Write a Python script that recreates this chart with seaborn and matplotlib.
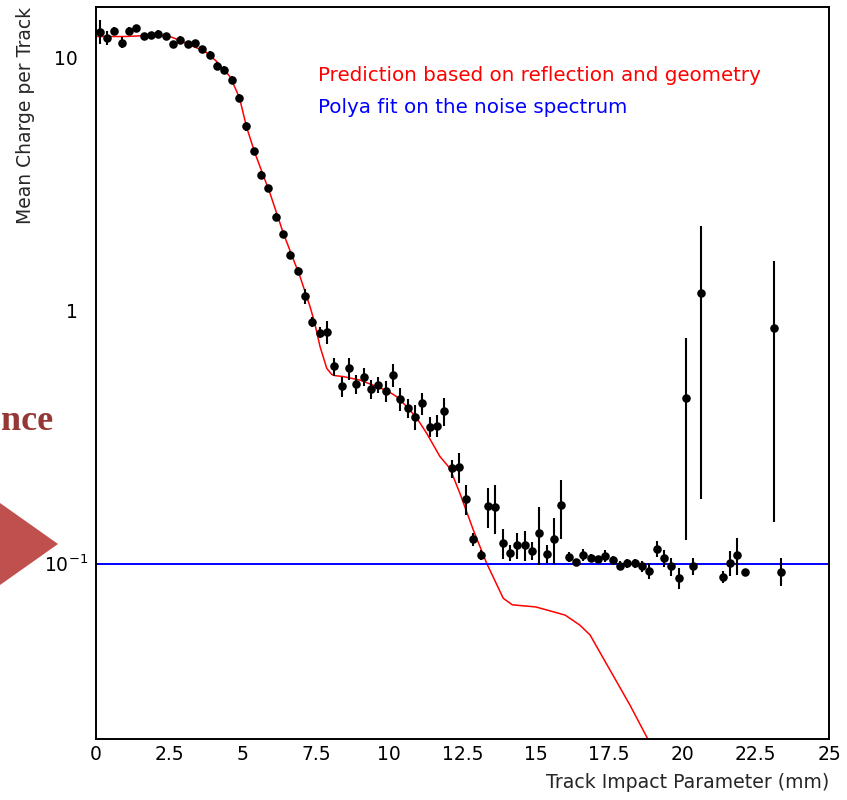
import matplotlib
matplotlib.use("Agg")
import matplotlib.pyplot as plt
import seaborn as sns
from matplotlib.ticker import FixedLocator, FixedFormatter, MultipleLocator, LogLocator, NullFormatter
from matplotlib.patches import Polygon
from matplotlib.transforms import ScaledTranslation

# Measured mean charge per track vs. track impact parameter (bin centres, mm)
impact_mm = [
    0.125, 0.375, 0.625, 0.875, 1.125, 1.375, 1.625, 1.875, 2.125, 2.375,
    2.625, 2.875, 3.125, 3.375, 3.625, 3.875, 4.125, 4.375, 4.625, 4.875,
    5.125, 5.375, 5.625, 5.875, 6.125, 6.375, 6.625, 6.875, 7.125, 7.375,
    7.625, 7.875, 8.125, 8.375, 8.625, 8.875, 9.125, 9.375, 9.625, 9.875,
    10.125, 10.375, 10.625, 10.875, 11.125, 11.375, 11.625, 11.875, 12.125, 12.375,
    12.625, 12.875, 13.125, 13.375, 13.625, 13.875, 14.125, 14.375, 14.625, 14.875,
    15.125, 15.375, 15.625, 15.875, 16.125, 16.375, 16.625, 16.875, 17.125, 17.375,
    17.625, 17.875, 18.125, 18.375, 18.625, 18.875, 19.125, 19.375, 19.625, 19.875,
    20.125, 20.375, 20.625, 21.375, 21.625, 21.875, 22.125, 23.125, 23.375,
]
mean_charge = [
    12.7, 12.0, 12.8, 11.5, 12.8, 13.1, 12.2, 12.3, 12.45, 12.2,
    11.3, 11.8, 11.3, 11.4, 10.8, 10.3, 9.3, 8.96, 8.18, 6.96,
    5.35, 4.26, 3.43, 3.05, 2.34, 2.0, 1.66, 1.43, 1.14, 0.90,
    0.817, 0.82, 0.60, 0.50, 0.59, 0.51, 0.547, 0.49, 0.507, 0.48,
    0.556, 0.447, 0.41, 0.38, 0.43, 0.347, 0.35, 0.40, 0.237, 0.24,
    0.179, 0.124, 0.108, 0.168, 0.167, 0.120, 0.110, 0.118, 0.118, 0.112,
    0.132, 0.109, 0.125, 0.169, 0.106, 0.101, 0.108, 0.1045, 0.1035, 0.1066,
    0.1027, 0.0976, 0.0997, 0.0997, 0.0969, 0.093, 0.114, 0.1045, 0.097, 0.0875,
    0.449, 0.097, 1.17, 0.088, 0.100, 0.108, 0.092, 0.855, 0.0925,
]
charge_err = [
    1.4, 0.8, 0.45, 0.6, 0.45, 0.45, 0.4, 0.4, 0.4, 0.4,
    0.4, 0.4, 0.35, 0.35, 0.35, 0.3, 0.3, 0.3, 0.3, 0.25,
    0.2, 0.15, 0.12, 0.1, 0.08, 0.07, 0.06, 0.05, 0.075, 0.042,
    0.04, 0.086, 0.05, 0.047, 0.059, 0.044, 0.047, 0.042, 0.038, 0.045,
    0.058, 0.047, 0.035, 0.044, 0.043, 0.033, 0.035, 0.05, 0.019, 0.033,
    0.024, 0.007, 0.005, 0.03, 0.037, 0.016, 0.008, 0.014, 0.016, 0.009,
    0.034, 0.009, 0.026, 0.045, 0.005, 0.003, 0.006, 0.004, 0.003, 0.006,
    0.004, 0.004, 0.004, 0.004, 0.005, 0.0066, 0.0087, 0.008, 0.008, 0.0083,
    0.326, 0.0073, 0.99, 0.005, 0.0115, 0.018, 0.003, 0.71, 0.0117,
]

# Prediction from reflection and geometry
pred_mm = [
    0.0, 1.0, 2.0, 2.4, 2.64, 3.21, 3.72, 4.12, 4.57, 4.80,
    4.91, 5.14, 5.42, 5.93, 6.39, 6.96, 7.30, 7.45, 7.64, 7.87,
    8.04, 8.15, 8.44, 9.00, 9.57, 9.97, 10.25, 10.6, 10.94, 11.28,
    11.73, 12.07, 12.41, 12.87, 13.32, 13.89, 14.2, 15.0, 16.0, 16.5,
    16.85, 17.53, 18.21, 18.83,
]
pred_charge = [
    12.15, 12.15, 12.3, 12.3, 12.0, 11.25, 10.6, 9.67, 8.43, 7.36,
    6.82, 5.3, 4.2, 2.92, 2.02, 1.36, 1.035, 0.90, 0.72, 0.59,
    0.558, 0.552, 0.547, 0.53, 0.50, 0.478, 0.456, 0.416, 0.375, 0.326,
    0.264, 0.237, 0.189, 0.135, 0.100, 0.0725, 0.0683, 0.067, 0.0622, 0.0568,
    0.0519, 0.0377, 0.0274, 0.0200,
]

# Polya fit level of the noise spectrum
noise_level = 0.0995

xtick_values = [0, 2.5, 5, 7.5, 10, 12.5, 15, 17.5, 20, 22.5, 25]
xtick_labels = ["0", "2.5", "5", "7.5", "10", "12.5", "15", "17.5", "20", "22.5", "25"]
ytick_values = [0.1, 1, 10]
ytick_labels = ["$10^{-1}$", "1", "10"]

sns.set_theme(style="white")
plt.rcParams["font.family"] = ["DejaVu Sans"]
plt.rcParams["mathtext.fontset"] = "dejavusans"

W, H = 847, 800
fig = plt.figure(figsize=(W / 100, H / 100), dpi=100)
ax = fig.add_axes([96 / W, 1 - 739 / H, 733 / W, 732 / H])
ax.set_yscale("log")

# Error bars, then the markers on top
ax.errorbar(impact_mm, mean_charge, yerr=charge_err, fmt="none",
            ecolor="black", elinewidth=1.5, capsize=0, zorder=3)
sns.scatterplot(x=impact_mm, y=mean_charge, ax=ax, color="black",
                marker="o", s=38, linewidth=0, zorder=4)

sns.lineplot(x=pred_mm, y=pred_charge, ax=ax, color="#ff0000",
             linewidth=1.1, sort=False, estimator=None, zorder=2)
ax.axhline(noise_level, color="#0000ff", linewidth=1.4, zorder=2)

ax.set_xlim(0, 25)
ax.set_ylim(0.0201, 15.9)

ax.xaxis.set_major_locator(FixedLocator(xtick_values))
ax.xaxis.set_major_formatter(FixedFormatter(xtick_labels))
ax.xaxis.set_minor_locator(MultipleLocator(0.5))
ax.yaxis.set_major_locator(FixedLocator(ytick_values))
ax.yaxis.set_major_formatter(FixedFormatter(ytick_labels))
ax.yaxis.set_minor_locator(LogLocator(base=10, subs=range(2, 10)))
ax.yaxis.set_minor_formatter(NullFormatter())

ax.tick_params(axis="both", which="both", direction="in", top=False, right=False,
               color="black", width=1.0, labelsize=13.5, labelcolor="black")
ax.tick_params(axis="x", which="major", length=10, pad=4)
ax.tick_params(axis="x", which="minor", length=5)
ax.tick_params(axis="y", which="major", length=10, pad=13)
ax.tick_params(axis="y", which="minor", length=6)

for sp in ax.spines.values():
    sp.set_color("black")
    sp.set_linewidth(1.4)

# the exponent label sits a little further right than the plain ones
fig.canvas.draw()
first = ax.yaxis.get_major_ticks()[0].label1
first.set_transform(first.get_transform() + ScaledTranslation(10 / 100, 0, fig.dpi_scale_trans))

ax.set_xlabel("Track Impact Parameter (mm)", fontsize=13.6, loc="right")
ax.xaxis.set_label_coords(1.0, -0.047)
ax.xaxis.label.set_va("top")
ax.set_ylabel("Mean Charge per Track", fontsize=13.5, loc="top")
ax.yaxis.set_label_coords(-0.083, 1.0)

ax.text(7.57, 8.49, "Prediction based on reflection and geometry",
        color="#ff0000", fontsize=14.3, va="center", ha="left")
ax.text(7.57, 6.34, "Polya fit on the noise spectrum",
        color="#0000ff", fontsize=14.3, va="center", ha="left")

# Slide fragments at the left edge
fig.text(1 / W, 1 - 422 / H, "nce", color="#953735", fontsize=26,
         fontweight="bold", family=["Liberation Serif", "DejaVu Serif"],
         ha="left", va="center")
fig.patches.append(Polygon([(0, 1 - 503 / H), (58 / W, 1 - 544 / H), (0, 1 - 585 / H)],
                           closed=True, transform=fig.transFigure,
                           facecolor="#C0504D", edgecolor="none", zorder=0))

fig.savefig("out.png", dpi=100)
